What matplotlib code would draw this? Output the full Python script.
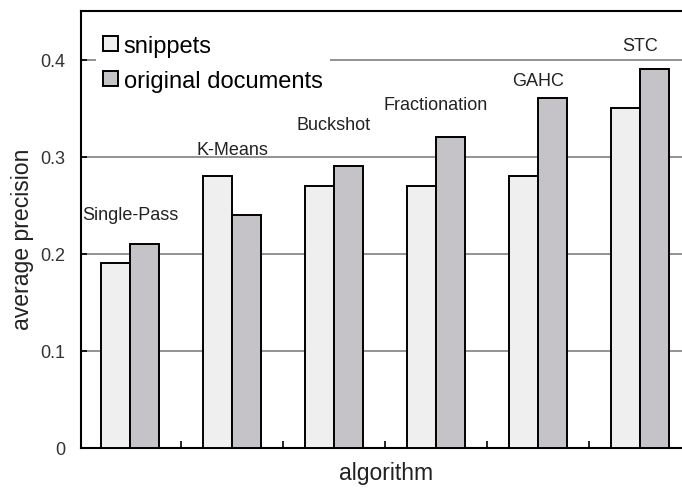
import matplotlib.pyplot as plt
from matplotlib.patches import Patch
import numpy as np

plt.rcParams['font.family'] = ['Liberation Sans', 'DejaVu Sans']

# data
algorithms = ['Single-Pass', 'K-Means', 'Buckshot', 'Fractionation', 'GAHC', 'STC']
snippets = [0.19, 0.28, 0.27, 0.27, 0.28, 0.35]
original = [0.21, 0.24, 0.29, 0.32, 0.36, 0.39]
# height of each algorithm name above its group
label_y = [0.236, 0.303, 0.328, 0.349, 0.374, 0.410]

c_snip = '#efefef'
c_orig = '#c5c3c7'

fig = plt.figure(figsize=(6.82, 4.89), dpi=100)
ax = fig.add_axes([81 / 682, 40 / 489, 610 / 682, 437 / 489])

x = np.arange(len(algorithms))
w = 0.28
ax.bar(x - w / 2, snippets, w, color=c_snip, edgecolor='black', linewidth=1.4, zorder=3)
ax.bar(x + w / 2, original, w, color=c_orig, edgecolor='black', linewidth=1.4, zorder=3)

for xi, name, yy in zip(x, algorithms, label_y):
    ax.text(xi, yy, name, ha='center', va='baseline', fontsize=13, color='#222222', zorder=4)

# grid lines
for g in [0.1, 0.2, 0.3, 0.4]:
    ax.axhline(g, color='#808080', linewidth=1.2, zorder=1)

ax.set_xlim(-0.48, 5.5)
ax.set_ylim(0, 0.45)
ax.set_yticks([0, 0.1, 0.2, 0.3, 0.4])
ax.set_yticklabels(['0', '0.1', '0.2', '0.3', '0.4'])
ax.set_xticks([])
ax.set_xticks(x[:-1] + 0.5, minor=True)
ax.tick_params(axis='y', direction='in', length=4, width=1.2, pad=11, labelsize=13,
               labelcolor='#333333')
ax.tick_params(axis='x', which='minor', direction='in', length=5, width=1.2)

for s in ['left', 'bottom', 'top']:
    ax.spines[s].set_linewidth(1.5)
ax.spines['right'].set_visible(False)

ax.set_xlabel('algorithm', fontsize=16.5, color='#222222')
ax.set_ylabel('average precision', fontsize=16.6, color='#222222')
ax.xaxis.set_label_coords(0.5, -0.03, transform=ax.transAxes)
ax.yaxis.set_label_coords(-0.077, 0.48, transform=ax.transAxes)

handles = [Patch(facecolor=c_snip, edgecolor='black', linewidth=1.4),
           Patch(facecolor=c_orig, edgecolor='black', linewidth=1.4)]
leg = ax.legend(handles, ['snippets', 'original documents'], loc='upper left',
                bbox_to_anchor=(0.025, 0.962), fontsize=17, frameon=True,
                facecolor='white', edgecolor='none', framealpha=1,
                handlelength=0.62, handleheight=0.62, handletextpad=0.25,
                labelspacing=0.56, borderpad=0.3, borderaxespad=0)
leg.set_zorder(5)

fig.savefig('out.png', dpi=100)
